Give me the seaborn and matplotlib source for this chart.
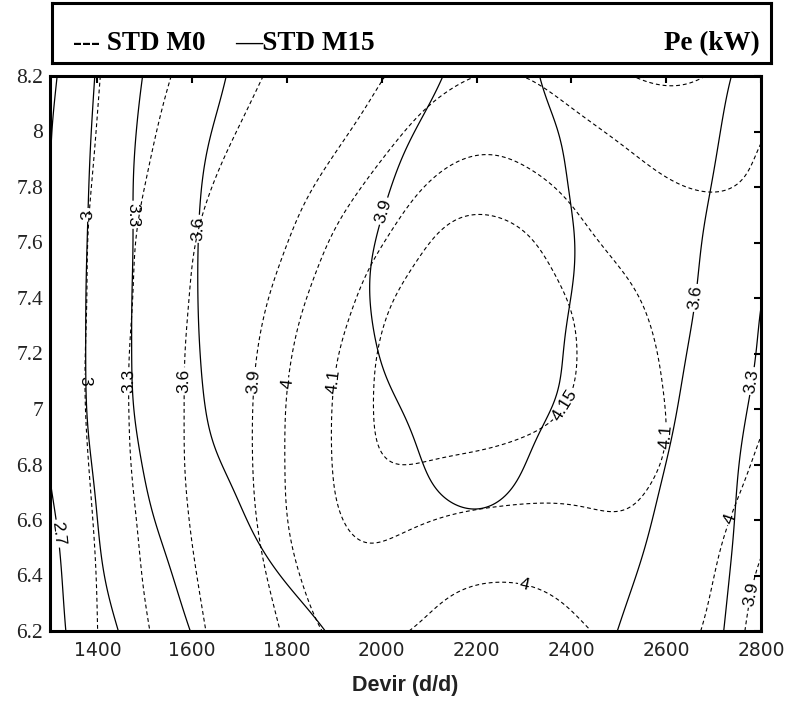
import numpy as np
import matplotlib
matplotlib.use("Agg")
import matplotlib.pyplot as plt
import seaborn as sns

# Grid of engine speed (d/d) and the second operating variable
devir = [1300, 1400, 1500, 1600, 1700, 1800, 1900, 2000,
         2100, 2200, 2300, 2400, 2500, 2600, 2700, 2800]
y_axis = [6.2, 6.4, 6.6, 6.8, 7.0, 7.2, 7.4, 7.6, 7.8, 8.0, 8.2]

# Effective power Pe (kW), STD M0 (rows follow y_axis, columns follow devir)
pe_m0 = [
    [2.72, 3.00, 3.27, 3.54, 3.75, 3.93, 4.025, 4.02, 3.985, 3.96, 3.96, 3.985, 4.02, 4.03, 3.99, 3.85],
    [2.72, 3.00, 3.33, 3.58, 3.80, 3.975, 4.07, 4.08, 4.03, 4.003, 4.003, 4.025, 4.06, 4.06, 4.01, 3.88],
    [2.70, 3.03, 3.36, 3.62, 3.84, 4.01, 4.10, 4.12, 4.105, 4.09, 4.085, 4.09, 4.103, 4.08, 4.03, 3.94],
    [2.70, 3.07, 3.40, 3.64, 3.86, 4.01, 4.11, 4.155, 4.15, 4.145, 4.135, 4.125, 4.115, 4.102, 4.06, 3.985],
    [2.72, 3.10, 3.40, 3.64, 3.86, 4.01, 4.11, 4.16, 4.17, 4.17, 4.165, 4.15, 4.125, 4.10, 4.07, 4.015],
    [2.72, 3.10, 3.40, 3.64, 3.85, 3.99, 4.10, 4.16, 4.175, 4.18, 4.17, 4.155, 4.125, 4.095, 4.07, 4.05],
    [2.72, 3.08, 3.37, 3.62, 3.81, 3.96, 4.06, 4.147, 4.172, 4.178, 4.168, 4.152, 4.115, 4.085, 4.06, 4.04],
    [2.72, 3.08, 3.36, 3.60, 3.76, 3.90, 4.02, 4.10, 4.157, 4.168, 4.162, 4.125, 4.085, 4.06, 4.04, 4.03],
    [2.70, 3.05, 3.30, 3.53, 3.70, 3.84, 3.95, 4.04, 4.115, 4.135, 4.122, 4.09, 4.04, 4.005, 3.99, 4.01],
    [2.68, 3.02, 3.25, 3.45, 3.61, 3.75, 3.87, 3.96, 4.04, 4.08, 4.07, 4.03, 3.99, 3.96, 3.955, 4.00],
    [2.66, 3.00, 3.20, 3.38, 3.53, 3.67, 3.79, 3.90, 3.96, 4.005, 4.003, 3.96, 3.91, 3.88, 3.905, 3.94],
]

# Effective power Pe (kW), STD M15
pe_m15 = [
    [2.60, 2.895, 3.13, 3.315, 3.42, 3.52, 3.62, 3.70, 3.76, 3.79, 3.76, 3.70, 3.60, 3.465, 3.33, 3.19],
    [2.60, 2.98, 3.20, 3.37, 3.50, 3.62, 3.70, 3.77, 3.82, 3.85, 3.82, 3.74, 3.65, 3.51, 3.35, 3.20],
    [2.65, 3.01, 3.27, 3.43, 3.59, 3.70, 3.78, 3.84, 3.88, 3.895, 3.87, 3.80, 3.70, 3.56, 3.38, 3.20],
    [2.72, 3.04, 3.32, 3.54, 3.64, 3.71, 3.78, 3.845, 3.91, 3.94, 3.91, 3.81, 3.71, 3.61, 3.41, 3.20],
    [2.72, 3.09, 3.37, 3.58, 3.665, 3.74, 3.82, 3.88, 3.93, 3.96, 3.93, 3.885, 3.76, 3.65, 3.45, 3.24],
    [2.73, 3.09, 3.38, 3.595, 3.67, 3.75, 3.83, 3.91, 3.95, 3.97, 3.95, 3.89, 3.78, 3.68, 3.49, 3.28],
    [2.73, 3.09, 3.38, 3.60, 3.68, 3.76, 3.85, 3.92, 3.96, 3.97, 3.95, 3.91, 3.79, 3.70, 3.54, 3.30],
    [2.72, 3.08, 3.37, 3.60, 3.68, 3.76, 3.85, 3.91, 3.95, 3.96, 3.94, 3.92, 3.80, 3.69, 3.57, 3.38],
    [2.70, 3.07, 3.38, 3.59, 3.67, 3.74, 3.82, 3.895, 3.93, 3.95, 3.935, 3.905, 3.79, 3.70, 3.60, 3.45],
    [2.69, 3.05, 3.36, 3.57, 3.645, 3.72, 3.79, 3.87, 3.915, 3.935, 3.925, 3.895, 3.78, 3.70, 3.62, 3.50],
    [2.64, 3.03, 3.32, 3.52, 3.63, 3.69, 3.75, 3.82, 3.89, 3.925, 3.925, 3.85, 3.77, 3.70, 3.63, 3.55],
]

levels_m0 = [3, 3.3, 3.6, 3.9, 4, 4.1, 4.15]
levels_m15 = [2.7, 3, 3.3, 3.6, 3.9]

x_ticks = [1400, 1600, 1800, 2000, 2200, 2400, 2600, 2800]
y_ticks = [6.2, 6.4, 6.6, 6.8, 7.0, 7.2, 7.4, 7.6, 7.8, 8.0, 8.2]

legend_m0 = "--- STD M0"
legend_m15 = "\u2014STD M15"
legend_title = "Pe (kW)"
x_label = "Devir (d/d)"

# contour label anchor points (data coordinates)
label_at_m0 = [(1372, 7.1), (1460, 7.1), (1579, 7.1), (1722, 7.1), (1800, 7.09),
               (1888, 7.1), (2400, 7.0), (2612, 6.9), (2302, 6.37), (2741, 6.6),
               (2790, 6.33)]
label_at_m15 = [(1312, 6.55), (1375, 7.7), (1463, 7.7), (1605, 7.65), (1990, 7.72),
                (2663, 7.4), (2784, 7.1)]


def spline_weights(x, xn):
    """Natural cubic spline weights so that values_new = W @ values."""
    x = np.asarray(x, float)
    xn = np.asarray(xn, float)
    n = len(x)
    h = np.diff(x)
    A = np.zeros((n, n))
    B = np.zeros((n, n))
    A[0, 0] = A[-1, -1] = 1.0
    for i in range(1, n - 1):
        A[i, i - 1] = h[i - 1]
        A[i, i] = 2 * (h[i - 1] + h[i])
        A[i, i + 1] = h[i]
        B[i, i - 1] = 6 / h[i - 1]
        B[i, i] = -6 / h[i - 1] - 6 / h[i]
        B[i, i + 1] = 6 / h[i]
    M = np.linalg.solve(A, B)
    W = np.zeros((len(xn), n))
    idx = np.clip(np.searchsorted(x, xn) - 1, 0, n - 2)
    for k, (xv, i) in enumerate(zip(xn, idx)):
        hi = h[i]
        a = (x[i + 1] - xv) / hi
        b = (xv - x[i]) / hi
        W[k, i] += a
        W[k, i + 1] += b
        W[k] += ((a ** 3 - a) * M[i] + (b ** 3 - b) * M[i + 1]) * hi ** 2 / 6
    return W


def soften(Z, sig_x, sig_y):
    """Separable Gaussian smoothing with slope-preserving edge padding."""
    Z = np.asarray(Z, float)
    for axis, sig in ((1, sig_x), (0, sig_y)):
        r = int(3 * sig)
        k = np.exp(-0.5 * (np.arange(-r, r + 1) / sig) ** 2)
        k /= k.sum()
        first = np.take(Z, [0], axis=axis)
        last = np.take(Z, [-1], axis=axis)
        front = 2 * first - np.take(Z, list(range(r, 0, -1)), axis=axis)
        back = 2 * last - np.take(Z, list(range(-2, -r - 2, -1)), axis=axis)
        P = np.concatenate([front, Z, back], axis=axis)
        Z = np.apply_along_axis(lambda v: np.convolve(v, k, mode="valid"), axis, P)
    return Z


# smooth display grid
xf = np.linspace(devir[0], devir[-1], 301)
yf = np.linspace(y_axis[0], y_axis[-1], 201)
Wx = spline_weights(devir, xf)
Wy = spline_weights(y_axis, yf)
Z0 = soften(Wy @ np.array(pe_m0) @ Wx.T, 9, 9)
Z15 = soften(Wy @ np.array(pe_m15) @ Wx.T, 9, 9)
XF, YF = np.meshgrid(xf, yf)

sns.set_theme(style="white")
plt.rcParams["font.family"] = ["Liberation Sans", "DejaVu Sans"]
plt.rcParams["lines.scale_dashes"] = True

W_PX, H_PX = 789, 702
fig = plt.figure(figsize=(W_PX / 100, H_PX / 100), dpi=100)
fig.patch.set_facecolor("white")

ax = fig.add_axes([50 / W_PX, 71 / H_PX, 711 / W_PX, 555 / H_PX])
ax.set_facecolor("white")

cs0 = ax.contour(XF, YF, Z0, levels=levels_m0, colors="black",
                 linewidths=0.8, linestyles=[(0, (3.5, 2.6))])
cs15 = ax.contour(XF, YF, Z15, levels=levels_m15, colors="black",
                  linewidths=0.9, linestyles="solid")

ax.clabel(cs0, fmt="%g", fontsize=12.5, inline=True, inline_spacing=2,
          manual=label_at_m0)
ax.clabel(cs15, fmt="%g", fontsize=12.5, inline=True, inline_spacing=2,
          manual=label_at_m15)

ax.set_xlim(devir[0], devir[-1])
ax.set_ylim(y_axis[0], y_axis[-1])
ax.set_xticks(x_ticks)
ax.set_yticks(y_ticks)
ax.set_xticklabels([f"{v:g}" for v in x_ticks])
ax.set_yticklabels([f"{v:g}" for v in y_ticks])

for side in ["left", "right", "top", "bottom"]:
    ax.spines[side].set_visible(True)
    ax.spines[side].set_color("black")
    ax.spines[side].set_linewidth(2.2)

ax.tick_params(axis="both", which="major", direction="in", length=5,
               width=1.5, color="black", top=True, right=True)
ax.tick_params(axis="x", pad=7, labelsize=13.5, labelcolor="#222222")
ax.tick_params(axis="y", pad=5, labelsize=15.5, labelcolor="#222222")
for t in ax.get_xticklabels():
    t.set_fontfamily(["DejaVu Sans"])
for t in ax.get_yticklabels():
    t.set_fontfamily(["Liberation Serif", "DejaVu Serif"])

ax.set_xlabel(x_label, fontsize=15.5, fontweight="bold", color="#222222",
              labelpad=11)

# legend frame above the plot
lg = fig.add_axes([52 / W_PX, (H_PX - 63) / H_PX, 719 / W_PX, 60 / H_PX])
lg.set_xticks([])
lg.set_yticks([])
lg.set_facecolor("white")
for side in ["left", "right", "top", "bottom"]:
    lg.spines[side].set_visible(True)
    lg.spines[side].set_color("black")
    lg.spines[side].set_linewidth(2.2)
serif_bold = dict(fontfamily=["Liberation Serif", "DejaVu Serif"],
                  fontweight="bold", fontsize=19.5, color="black",
                  va="baseline")
lg.text(0.029, 0.22, legend_m0, ha="left", transform=lg.transAxes, **serif_bold)
lg.text(0.2545, 0.22, legend_m15, ha="left", transform=lg.transAxes, **serif_bold)
lg.text(0.985, 0.22, legend_title, ha="right", transform=lg.transAxes, **serif_bold)

fig.savefig("out.png", dpi=100, facecolor="white")
